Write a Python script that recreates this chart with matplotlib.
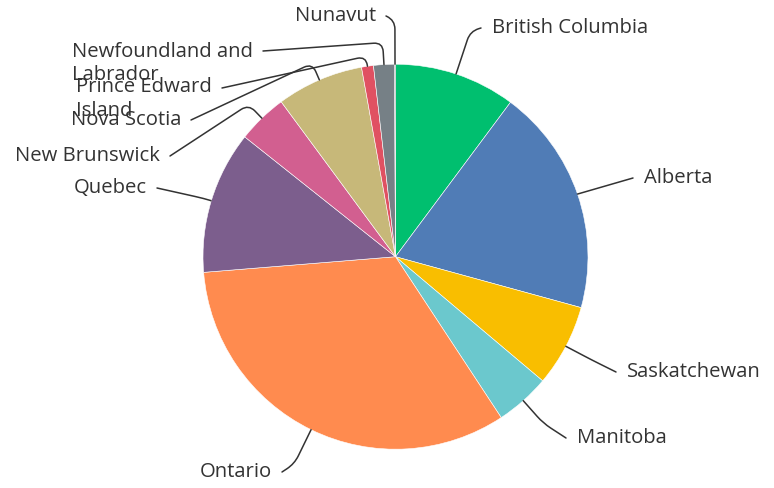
import numpy as np
import matplotlib
matplotlib.use("Agg")
import matplotlib.pyplot as plt
from matplotlib.path import Path
from matplotlib.patches import PathPatch

# provinces in clockwise order from 12 o'clock
provinces = ["British Columbia", "Alberta", "Saskatchewan", "Manitoba", "Ontario",
             "Quebec", "New Brunswick", "Nova Scotia", "Prince Edward\nIsland",
             "Newfoundland and\nLabrador", "Nunavut"]
shares = [10.2, 19.1, 6.9, 4.6, 33.0, 12.0, 4.2, 7.3, 1.0, 1.75, 0.08]
colors = ["#00BF6F", "#507CB6", "#F9BE00", "#6BC8CD", "#FF8B4F",
          "#7C5E8D", "#D25F90", "#C7B879", "#E05162", "#768086", "#5a6066"]

W, H = 774, 488
cx, cy, R = 395.5, H - 256.7, 192.5

# label connector end (image px), side, radial break distance
label_pos = [
    (481, 28, "r", 45),
    (633, 178, "r", 0),
    (616, 372, "r", 30),
    (566, 438, "r", 30),
    (282, 472, "l", 38),
    (157, 188, "l", 8),
    (170, 156, "l", 19),
    (191, 120, "l", 18),
    (222, 88, "l", 10),
    (263, 51, "l", 22),
    (386, 16, "l", 44),
]
line_gap = [0, 0, 0, 0, 0, 0, 0, 0, 22, 25, 0]

plt.rcParams['font.family'] = ['Open Sans', 'DejaVu Sans']
fig = plt.figure(figsize=(W / 100, H / 100), dpi=100)
ax = fig.add_axes([0, 0, 1, 1])

wedges, _ = ax.pie(shares, colors=colors, startangle=90, counterclock=False,
                   center=(cx, cy), radius=R,
                   wedgeprops=dict(edgecolor="white", linewidth=0.4))

k = 9
for w, name, (ex, ey, side, d), gap in zip(wedges, provinces, label_pos, line_gap):
    mid = np.deg2rad((w.theta1 + w.theta2) / 2)
    u = np.array([np.cos(mid), np.sin(mid)])
    p0 = np.array([cx, cy]) + R * u
    p2 = np.array([ex, H - ey], dtype=float)
    if d == 0:
        verts = [p0, p2]
        codes = [Path.MOVETO, Path.LINETO]
    else:
        p1 = np.array([cx, cy]) + (R + d) * u
        a = p1 - u * min(k, d)
        v = (p2 - p1) / np.linalg.norm(p2 - p1)
        b = p1 + v * k
        verts = [p0, a, p1, b, p2]
        codes = [Path.MOVETO, Path.LINETO, Path.CURVE3, Path.CURVE3, Path.LINETO]
    ax.add_patch(PathPatch(Path(verts, codes), fill=False, edgecolor="#333333",
                           linewidth=1.1, capstyle="round"))
    tx = ex + 11 if side == "r" else ex - 10
    ty = H - ey - gap / 2
    ax.text(tx, ty, name, ha="left" if side == "r" else "right",
            multialignment="left", va="center", fontsize=14.6, color="#333333",
            fontweight="medium", linespacing=1.2)

ax.set_xlim(0, W)
ax.set_ylim(0, H)
ax.set_aspect("equal")
ax.axis("off")
fig.savefig("out.png", dpi=100)
